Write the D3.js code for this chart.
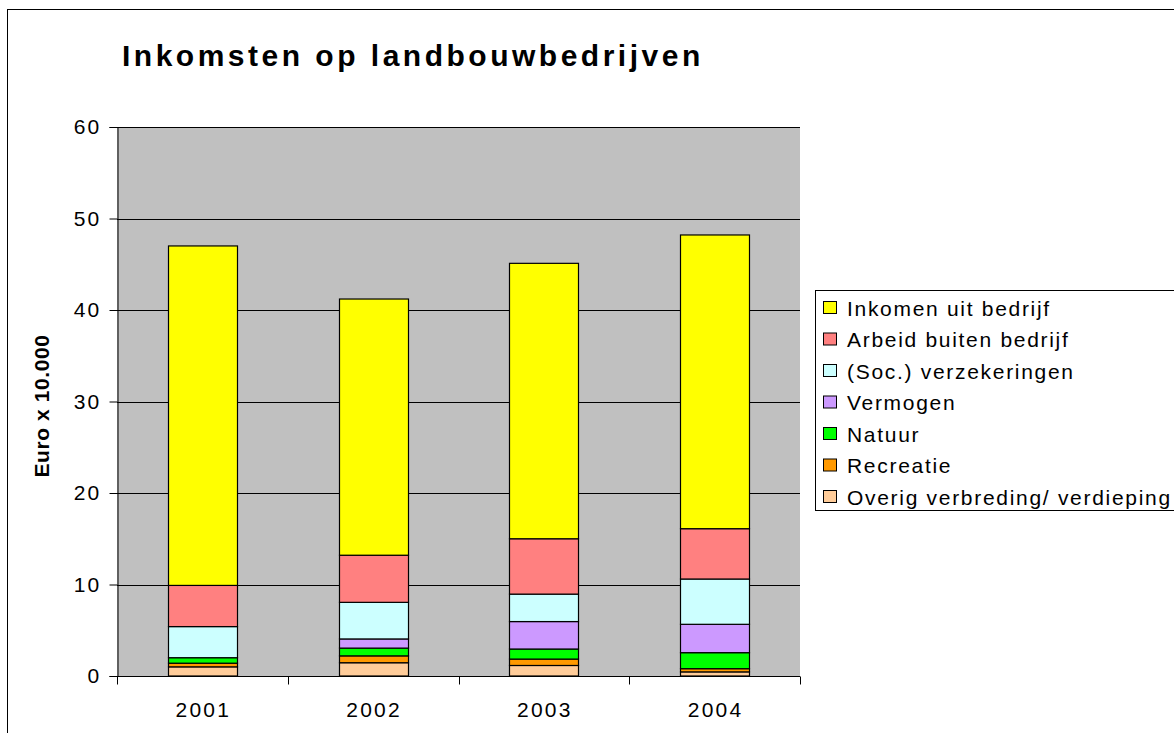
<!DOCTYPE html>
<html>
<head>
<meta charset="utf-8">
<script src="https://cdn.jsdelivr.net/npm/d3@7"></script>
<style>
    body { margin: 0; background: #fff; }
    svg { display: block; font-family: "Liberation Sans", Arial, sans-serif; }
</style>
</head>
<body>
<svg id="chart"></svg>
<script>
var years = ["2001", "2002", "2003", "2004"];

// stack order: bottom to top
var series = [
    "Overig verbreding/ verdieping",
    "Recreatie",
    "Natuur",
    "Vermogen",
    "(Soc.) verzekeringen",
    "Arbeid buiten bedrijf",
    "Inkomen uit bedrijf"
];

var overig = [1.0, 1.45, 1.15, 0.45];
var recreatie = [0.4, 0.75, 0.7, 0.35];
var natuur = [0.6, 0.85, 1.1, 1.75];
var vermogen = [0, 1.0, 3.0, 3.1];
var verzekeringen = [3.4, 4.0, 3.0, 4.95];
var arbeid = [4.5, 5.15, 6.05, 5.5];
var inkomen = [37.1, 28.0, 30.1, 32.1];

var yTicks = [0, 10, 20, 30, 40, 50, 60];

var colors = ["#ffcc99", "#ff9900", "#00ff00", "#cc99ff", "#ccffff", "#ff8080", "#ffff00"];

var values = [overig, recreatie, natuur, vermogen, verzekeringen, arbeid, inkomen];

var rows = years.map(function(y, i) {
    var o = { year: y };
    series.forEach(function(s, j) { o[s] = values[j][i]; });
    return o;
});

var width = 1174, height = 733;
var margin = { top: 127, right: 374, bottom: 57, left: 117 };

var svg = d3.select("#chart")
    .attr("width", width)
    .attr("height", height);

// outer chart frame
svg.append("rect")
    .attr("x", 7.5).attr("y", 9.5)
    .attr("width", 1300).attr("height", 900)
    .attr("fill", "#fff")
    .attr("stroke", "#000");

var x = d3.scaleBand()
    .domain(years)
    .range([margin.left, width - margin.right])
    .paddingInner(0.596)
    .paddingOuter(0.298);

var y = d3.scaleLinear()
    .domain([0, 60])
    .range([height - margin.bottom, margin.top]);

// plot area
svg.append("rect")
    .attr("x", margin.left)
    .attr("y", y(60))
    .attr("width", width - margin.right - margin.left)
    .attr("height", y(0) - y(60))
    .attr("fill", "#c0c0c0");

// gridlines
svg.append("g")
    .selectAll("line")
    .data(yTicks.slice(1))
    .enter().append("line")
    .attr("x1", margin.left)
    .attr("x2", width - margin.right)
    .attr("y1", d => Math.round(y(d)) + 0.5)
    .attr("y2", d => Math.round(y(d)) + 0.5)
    .attr("stroke", "#000");

var stack = d3.stack().keys(series);
var layers = stack(rows);

svg.append("g")
    .selectAll("g")
    .data(layers)
    .enter().append("g")
    .attr("fill", (d, i) => colors[i])
    .selectAll("rect")
    .data(d => d)
    .enter().append("rect")
    .attr("x", d => Math.round(x(d.data.year)) + 0.5)
    .attr("y", d => y(d[1]))
    .attr("width", Math.round(x.bandwidth()))
    .attr("height", d => y(d[0]) - y(d[1]))
    .attr("stroke", "#000")
    .attr("stroke-width", 1.2);

// y axis
var yAxis = svg.append("g")
    .attr("transform", `translate(${margin.left + 0.5},0)`)
    .call(d3.axisLeft(y).tickValues(yTicks).tickSize(8).tickPadding(8));
yAxis.selectAll("line, path").attr("stroke", "#000");
yAxis.selectAll("text")
    .style("font-size", "21px")
    .style("letter-spacing", "2.2px")
    .attr("fill", "#000");

// x axis, ticks sit between the categories
var xAxisY = Math.round(y(0)) + 0.5;
var g = svg.append("g");
g.append("line")
    .attr("x1", margin.left).attr("x2", width - margin.right)
    .attr("y1", xAxisY).attr("y2", xAxisY)
    .attr("stroke", "#000");
var bounds = years.map((d, i) => margin.left + i * x.step());
bounds.push(width - margin.right);
g.selectAll("line.tick")
    .data(bounds)
    .enter().append("line")
    .attr("class", "tick")
    .attr("x1", d => Math.round(d) + 0.5)
    .attr("x2", d => Math.round(d) + 0.5)
    .attr("y1", xAxisY)
    .attr("y2", xAxisY + 8)
    .attr("stroke", "#000");
g.selectAll("text")
    .data(years)
    .enter().append("text")
    .attr("x", d => x(d) + x.bandwidth() / 2 + 1)
    .attr("y", 717)
    .attr("text-anchor", "middle")
    .style("font-size", "21px")
    .style("letter-spacing", "2.2px")
    .text(d => d);

// y label
svg.append("text")
    .attr("transform", "translate(49,406) rotate(-90)")
    .attr("text-anchor", "middle")
    .style("font-size", "21px")
    .style("font-weight", "bold")
    .style("letter-spacing", "0.6px")
    .text("Euro x 10.000");

// title
svg.append("text")
    .attr("x", 122)
    .attr("y", 66)
    .style("font-size", "30px")
    .style("font-weight", "bold")
    .style("letter-spacing", "3.5px")
    .text("Inkomsten op landbouwbedrijven");

// legend
var legend = svg.append("g");
legend.append("rect")
    .attr("x", 815.5).attr("y", 290.5)
    .attr("width", 500).attr("height", 220)
    .attr("fill", "#fff")
    .attr("stroke", "#000");

var items = series.map((s, i) => ({ name: s, color: colors[i] })).reverse();

var item = legend.selectAll("g.item")
    .data(items)
    .enter().append("g")
    .attr("class", "item")
    .attr("transform", (d, i) => `translate(0,${308 + i * 31.5})`);

item.append("rect")
    .attr("x", 823.5).attr("y", -6.5)
    .attr("width", 13).attr("height", 12)
    .attr("fill", d => d.color)
    .attr("stroke", "#000");

item.append("text")
    .attr("x", 847)
    .attr("y", 7.5)
    .style("font-size", "21px")
    .style("letter-spacing", "1.7px")
    .text(d => d.name);
</script>
</body>
</html>
